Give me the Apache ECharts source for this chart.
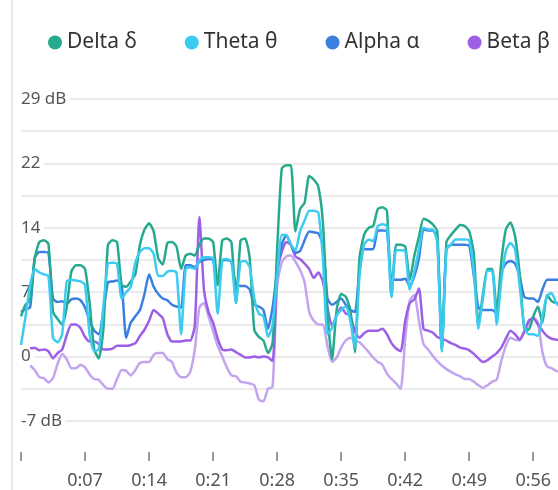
<!DOCTYPE html>
<html>
<head>
<meta charset="utf-8">
<script src="https://cdn.jsdelivr.net/npm/echarts@6/dist/echarts.min.js"></script>
<style>
	html, body { margin: 0; padding: 0; background: #fff; }
	#wrap { position: relative; width: 558px; height: 490px; overflow: hidden; }
	#edge { position: absolute; left: 11px; top: 0; width: 2px; height: 490px; background: #e8e8e8; }
	#chart { position: absolute; left: 0; top: 0; width: 558px; height: 490px; }
</style>
</head>
<body>
<div id="wrap"><div id="edge"></div><div id="chart"></div></div>
<script>
// sample times (s)
var seconds = [0, 0.5, 1, 1.5, 2, 2.5, 3, 3.5, 4, 4.5, 5, 5.5, 6, 6.5, 7, 7.5, 8, 8.5, 9, 9.5,
	10, 10.5, 11, 11.5, 12, 12.5, 13, 13.5, 14, 14.5, 15, 15.5, 16, 16.5, 17, 17.5, 18, 18.5, 19, 19.5,
	20, 20.5, 21, 21.5, 22, 22.5, 23, 23.5, 24, 24.5, 25, 25.5, 26, 26.5, 27, 27.5, 28, 28.5, 29, 29.5,
	30, 30.5, 31, 31.5, 32, 32.5, 33, 33.5, 34, 34.5, 35, 35.5, 36, 36.5, 37, 37.5, 38, 38.5, 39, 39.5,
	40, 40.5, 41, 41.5, 42, 42.5, 43, 43.5, 44, 44.5, 45, 45.5, 46, 46.5, 47, 47.5, 48, 48.5, 49, 49.5,
	50, 50.5, 51, 51.5, 52, 52.5, 53, 53.5, 54, 54.5, 55, 55.5, 56, 56.5, 57, 57.5, 58, 58.5, 59];

var delta = [4.5, 5.8, 6.3, 11.0, 12.8, 13.0, 12.6, 5.0, 4.2, 3.6,
	5.5, 9.5, 10.2, 10.2, 9.8, 6.0, 0.8, -0.2, 3.0, 12.5,
	13.0, 12.8, 8.0, 7.8, 8.4, 9.2, 12.5, 14.2, 14.9, 14.0,
	11.0, 10.3, 12.7, 12.8, 12.3, 9.8, 11.3, 11.5, 11.3, 12.5,
	13.2, 13.2, 12.8, 8.0, 13.0, 13.2, 12.8, 6.0, 13.0, 13.2,
	11.0, 3.0, 2.2, 1.8, 0.4, 1.5, 12.0, 21.0, 21.4, 21.4,
	14.0, 16.5, 17.2, 20.2, 19.8, 19.0, 15.0, 5.0, -0.3, 5.2,
	7.0, 6.7, 5.2, 0.5, 11.0, 13.6, 14.4, 14.6, 16.5, 16.7,
	16.3, 6.7, 12.5, 12.5, 12.3, 8.6, 11.3, 13.4, 15.4, 15.2,
	14.8, 14.0, 0.6, 12.8, 13.6, 14.2, 14.7, 14.6, 14.0, 11.5,
	3.6, 7.0, 9.8, 9.8, 5.0, 10.6, 14.2, 15.0, 13.5, 9.4,
	3.2, 3.0, 4.5, 5.6, 3.8, 6.9, 6.2, 6.0, 6.0];

var theta = [1.3, 4.5, 8.0, 9.8, 9.4, 9.2, 9.0, 2.1, 1.6, 2.5,
	8.4, 8.6, 8.5, 8.4, 8.0, 2.5, 0.6, 0.8, 5.5, 10.4,
	10.5, 10.4, 6.5, 7.2, 7.8, 10.5, 11.7, 12.1, 12.1, 11.5,
	9.0, 9.0, 9.5, 9.6, 9.4, 2.5, 9.8, 10.0, 9.8, 10.8,
	11.1, 11.1, 11.0, 4.8, 10.8, 10.9, 10.6, 6.0, 10.6, 10.7,
	10.0, 6.5, 4.8, 4.5, 2.2, 3.5, 9.0, 13.6, 13.6, 12.5,
	11.9, 14.0, 15.2, 16.3, 16.3, 16.1, 11.0, 2.5, 3.2, 4.6,
	5.2, 5.6, 4.0, 1.0, 9.0, 12.5, 13.1, 12.9, 14.6, 14.8,
	14.6, 6.7, 11.9, 11.9, 11.8, 7.5, 9.5, 12.0, 14.4, 14.2,
	14.2, 12.8, 0.6, 12.0, 12.5, 13.1, 13.1, 13.1, 13.0, 9.5,
	3.1, 6.5, 9.6, 9.6, 3.6, 8.5, 11.8, 12.7, 12.0, 8.0,
	3.5, 2.5, 2.5, 2.3, 4.5, 6.8, 7.1, 6.0, 5.5];

var alpha = [5.0, 5.3, 5.5, 11.0, 11.7, 11.7, 11.6, 6.5, 6.1, 6.2,
	5.9, 6.4, 6.5, 6.3, 5.5, 4.0, 2.9, 2.5, 5.0, 8.3,
	8.4, 8.5, 8.0, 2.1, 3.8, 4.5, 5.2, 7.0, 9.2, 7.8,
	7.0, 6.5, 6.3, 5.8, 5.6, 5.5, 10.2, 10.2, 10.0, 10.6,
	10.8, 10.9, 10.8, 8.0, 10.7, 10.8, 10.6, 8.0, 7.9, 7.9,
	7.5, 5.8, 5.6, 5.2, 3.1, 5.5, 9.5, 12.5, 13.6, 12.5,
	11.6, 11.8, 13.0, 14.0, 13.9, 13.8, 12.5, 6.5, 5.8, 6.1,
	6.5, 5.8, 5.2, 5.0, 9.5, 12.0, 12.0, 12.0, 14.1, 14.1,
	14.0, 8.6, 8.6, 8.6, 8.7, 7.9, 9.0, 11.0, 14.2, 14.1,
	14.1, 13.2, 1.0, 12.0, 12.5, 12.5, 12.5, 12.5, 12.4, 9.0,
	5.5, 5.2, 5.2, 5.2, 4.8, 9.4, 10.4, 10.7, 10.4, 9.0,
	6.7, 6.5, 6.5, 6.1, 7.5, 8.6, 8.6, 8.6, 8.6];

var beta = [null, null, 0.9, 1.0, 0.7, 0.8, 0.6, -0.2, 0.4, 0.8,
	2.4, 3.6, 3.6, 3.2, 2.2, 1.7, 1.7, 1.4, 0.8, 0.8,
	0.9, 1.2, 1.2, 1.2, 1.3, 1.5, 2.3, 3.0, 4.0, 5.2,
	4.8, 4.3, 2.5, 1.7, 1.7, 1.7, 1.8, 1.8, 3.5, 15.6,
	7.5, 5.0, 3.8, 2.0, 0.8, 0.7, 0.8, 0.5, 0.2, -0.1,
	-0.1, 0.0, -0.1, 0.0, -0.1, -0.5, 9.4, 11.7, 12.8, 12.5,
	11.2, 10.9, 10.4, 9.8, 8.8, 9.4, 8.4, 5.5, 3.4, 4.6,
	5.5, 4.8, 4.6, 2.8, 2.1, 2.6, 2.9, 2.9, 2.9, 3.1,
	2.5, 1.5, 0.9, 0.6, 4.0, 6.0, 6.4, 7.6, 3.1, 2.9,
	2.7, 2.2, 2.0, 1.8, 1.5, 1.3, 1.0, 0.9, 0.7, 0.3,
	-0.2, -0.6, -0.4, 0.0, 0.4, 1.0, 2.0, 2.9, 2.5, 1.9,
	2.8, 4.0, 4.3, 3.6, 2.9, 2.3, 2.0, 1.9, 1.8];

var gamma = [null, null, -1.0, -1.5, -2.3, -2.4, -2.9, -2.4, -0.8, 0.3,
	-0.3, -1.3, -1.3, -0.9, -1.2, -2.0, -2.5, -2.6, -3.2, -3.6,
	-3.6, -2.5, -1.5, -1.6, -2.1, -1.5, -0.7, -0.6, -0.6, 0.2,
	0.4, 0.4, -0.3, -0.6, -1.8, -2.3, -2.3, -1.7, 0.8, 5.5,
	6.0, 4.5, 2.8, 1.2, 0.0, -1.2, -2.1, -2.2, -2.8, -2.9,
	-3.0, -3.2, -4.8, -5.0, -3.6, -3.4, 8.0, 10.5, 11.2, 11.3,
	10.6, 9.7, 8.3, 5.0, 4.0, 3.6, 3.6, 1.2, -0.6, -0.1,
	1.0, 1.8, 2.1, 1.8, 1.6, 1.1, 0.5, -0.1, -0.6, -0.9,
	-1.9, -2.5, -3.0, -3.6, 2.0, 6.3, 6.9, 4.0, 1.4, 0.8,
	0.1, -0.5, -1.0, -1.4, -1.7, -2.0, -2.2, -2.5, -2.5, -2.8,
	-3.2, -3.5, -3.2, -2.8, -2.6, -0.5, 1.2, 2.1, 1.9, 1.8,
	2.7, 3.6, 4.4, 3.8, 0.5, -1.1, -1.3, -1.6, -1.7];

var legendNames = ['Delta δ', 'Theta θ', 'Alpha α', 'Beta β'];
var timeTicks = [0, 7, 14, 21, 28, 35, 42, 49, 56];
var timeLabels = [7, 14, 21, 28, 35, 42, 49, 56];

var font = 'Noto Sans';
var yMin = -7.2;

function band(name, values, color) {
	return {
		name: name,
		type: 'line',
		data: seconds.map(function(s, i) {
			return [s, values[i]];
		}),
		showSymbol: false,
		smooth: 0.2,
		animation: false,
		lineStyle: {
			width: 2.5,
			color: color,
			join: 'round'
		},
		itemStyle: {
			color: color
		}
	};
}

var myChart = echarts.init(document.getElementById('chart'));
var option = {
	textStyle: {
		fontFamily: font
	},
	legend: {
		data: legendNames,
		left: 48,
		top: 32,
		width: 640,
		padding: 0,
		icon: 'circle',
		itemWidth: 14,
		itemHeight: 14,
		itemGap: 48,
		textStyle: {
			fontFamily: font,
			fontSize: 21,
			color: '#333'
		}
	},
	grid: {
		left: 21,
		right: 0,
		top: 99,
		bottom: 69,
		containLabel: false
	},
	xAxis: {
		type: 'value',
		min: 0,
		max: 58.7,
		interval: 7,
		offset: 31,
		axisLine: {
			show: false
		},
		axisTick: {
			show: false
		},
		axisLabel: {
			customValues: timeLabels,
			margin: 20,
			fontSize: 18,
			fontFamily: font,
			color: '#555',
			formatter: function(v) {
				return '0:' + (v < 10 ? '0' : '') + v;
			}
		},
		splitLine: {
			show: false
		}
	},
	yAxis: {
		type: 'value',
		min: yMin,
		max: 28.8,
		interval: 3.6,
		axisLine: {
			show: false
		},
		axisTick: {
			show: false
		},
		axisLabel: {
			inside: true,
			margin: 0,
			fontSize: 17,
			fontFamily: font,
			color: '#555',
			backgroundColor: '#fff',
			padding: [0, 3, 0, 0],
			formatter: function(v) {
				var k = Math.round(v / 3.6);
				if (k % 2 !== 0) return '';
				var txt = String(Math.round(v));
				if (k === 8 || k === -2) txt += ' dB';
				return txt;
			}
		},
		splitLine: {
			lineStyle: {
				color: '#e4e4e4',
				width: 1.5
			}
		}
	},
	series: [
		band('Gamma γ', gamma, '#c3a4ee'),
		band('Beta β', beta, '#9c5fe6'),
		band('Alpha α', alpha, '#3b7fe0'),
		band('Delta δ', delta, '#27a98e'),
		band('Theta θ', theta, '#3ccbf1'),
		{
			// time ticks below the plot
			name: 'ticks',
			type: 'custom',
			silent: true,
			clip: false,
			z: 10,
			animation: false,
			data: timeTicks.map(function(v) {
				return [v, yMin];
			}),
			renderItem: function(params, api) {
				var p = api.coord([api.value(0), api.value(1)]);
				var x = Math.round(p[0]);
				return {
					type: 'line',
					shape: { x1: x, y1: p[1] + 31, x2: x, y2: p[1] + 40 },
					style: { stroke: '#999', lineWidth: 2 }
				};
			}
		}
	]
};
myChart.setOption(option);
</script>
</body>
</html>
